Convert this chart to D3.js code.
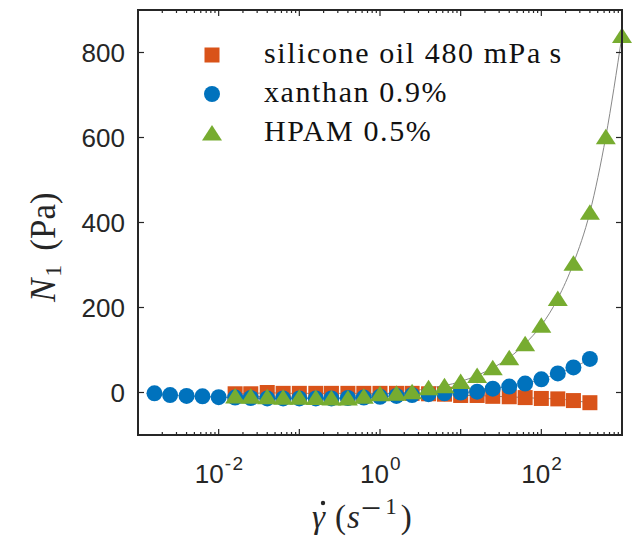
<!DOCTYPE html>
<html>
<head>
<meta charset="utf-8">
<script src="https://cdn.jsdelivr.net/npm/d3@7"></script>
<style>
  body { margin: 0; background: #fff; }
</style>
</head>
<body>
<div id="chart"></div>
<script>
// shear rates (1/s), 5 points per decade
const shearRates = [0.0016, 0.0025, 0.004, 0.0063, 0.01, 0.016, 0.025, 0.04, 0.063, 0.1,
    0.16, 0.25, 0.4, 0.63, 1, 1.6, 2.5, 4, 6.3, 10,
    16, 25, 40, 63, 100, 160, 250, 400, 630, 1000];

// N1 (Pa)
const siliconeN1 = [-3, -3, 0, -2, -2, -2, -2, -2, -2, -2, -2, -2, -3, -4,
    -7, -7, -9, -10, -12, -14, -15, -19, -24];              // 0.016 .. 400
const xanthanN1 = [-2, -6, -8, -9, -11, -12, -13, -14, -14, -14, -14, -14, -13, -12,
    -10, -8, -6, -4, -2, 0, 2, 9, 14, 21, 31, 45, 59, 79];  // 0.0016 .. 400
const hpamN1 = [-8, -9, -10, -11, -11, -12, -13, -13, -9, -3, -2, 2, 11, 16,
    26, 40, 58, 82, 115, 158, 221, 304, 424, 602, 840];     // 0.016 .. 1000

const seriesNames = ["silicone oil 480 mPa\u2009s", "xanthan 0.9%", "HPAM 0.5%"];
const yTicks = [0, 200, 400, 600, 800];
const xLabelTicks = [0.01, 1, 100];

const series = [
    { name: seriesNames[0], shape: "square", color: "#D95319",
      data: siliconeN1.map((v, i) => ({ x: shearRates[i + 5], y: v })) },
    { name: seriesNames[1], shape: "circle", color: "#0072BD",
      data: xanthanN1.map((v, i) => ({ x: shearRates[i], y: v })) },
    { name: seriesNames[2], shape: "triangle", color: "#77AC30",
      data: hpamN1.map((v, i) => ({ x: shearRates[i + 5], y: v })) }
];

const W = 633, H = 540;
const margin = { top: 10, right: 11, bottom: 105, left: 138 };
const width = W - margin.left - margin.right;
const height = H - margin.top - margin.bottom;

const svg = d3.select("#chart").append("svg")
    .attr("width", W).attr("height", H);
const g = svg.append("g")
    .attr("transform", `translate(${margin.left},${margin.top})`);

const x = d3.scaleLog().domain([1e-3, 1e3]).range([0, width]);
const y = d3.scaleLinear().domain([-100, 900]).range([height, 0]);

const axisColor = "#262626";
const sans = "'Liberation Sans', Arial, sans-serif";
const serif = "'Liberation Serif', 'Times New Roman', serif";

// marker drawing
function marker(sel, shape, color) {
    if (shape === "square") {
        sel.append("rect").attr("x", -7.5).attr("y", -7.5)
            .attr("width", 15).attr("height", 15).attr("fill", color);
    } else if (shape === "circle") {
        sel.append("circle").attr("r", 8).attr("fill", color);
    } else {
        sel.append("path").attr("d", "M0,-8L10,7.5L-10,7.5Z").attr("fill", color);
    }
}

// thin grey curves through the points
const line = d3.line()
    .x(d => x(d.x)).y(d => y(d.y))
    .curve(d3.curveMonotoneX);

series.forEach(s => {
    g.append("path").datum(s.data)
        .attr("d", line)
        .attr("fill", "none")
        .attr("stroke", "#888")
        .attr("stroke-width", 1);
});

// markers
series.forEach(s => {
    g.append("g").selectAll("g")
        .data(s.data).enter().append("g")
        .attr("transform", d => `translate(${x(d.x)},${y(d.y)})`)
        .each(function() { marker(d3.select(this), s.shape, s.color); });
});

// ticks (inward, on all four sides)
const majorX = d3.range(-3, 4).map(e => Math.pow(10, e));
const minorX = [];
for (let e = -3; e < 3; e++) for (let k = 2; k <= 9; k++) minorX.push(k * Math.pow(10, e));

const ticks = g.append("g").attr("stroke", axisColor).attr("stroke-width", 1.2);
majorX.forEach(v => {
    ticks.append("line").attr("x1", x(v)).attr("x2", x(v)).attr("y1", height).attr("y2", height - 6);
    ticks.append("line").attr("x1", x(v)).attr("x2", x(v)).attr("y1", 0).attr("y2", 6);
});
minorX.forEach(v => {
    ticks.append("line").attr("x1", x(v)).attr("x2", x(v)).attr("y1", height).attr("y2", height - 3);
    ticks.append("line").attr("x1", x(v)).attr("x2", x(v)).attr("y1", 0).attr("y2", 3);
});
yTicks.forEach(v => {
    ticks.append("line").attr("x1", 0).attr("x2", 6).attr("y1", y(v)).attr("y2", y(v));
    ticks.append("line").attr("x1", width).attr("x2", width - 6).attr("y1", y(v)).attr("y2", y(v));
});

// box
g.append("rect")
    .attr("width", width).attr("height", height)
    .attr("fill", "none").attr("stroke", axisColor).attr("stroke-width", 2);

// y tick labels
g.append("g").selectAll("text")
    .data(yTicks).enter().append("text")
    .attr("x", -13).attr("y", d => y(d))
    .attr("dy", "0.36em")
    .attr("text-anchor", "end")
    .attr("font-family", sans).attr("font-size", 26)
    .attr("fill", axisColor)
    .text(d => d);

// x tick labels 10^n
xLabelTicks.forEach(v => {
    const t = g.append("text")
        .attr("x", x(v) + 1).attr("y", height + 48)
        .attr("text-anchor", "middle")
        .attr("font-family", sans).attr("font-size", 26)
        .attr("fill", axisColor);
    t.append("tspan").text("10");
    t.append("tspan").attr("dx", 1).attr("dy", -13).attr("font-size", 19)
        .attr("letter-spacing", 1.5).text(Math.round(Math.log10(v)));
});

// x axis label: gamma-dot (s^-1)
const xl = svg.append("text")
    .attr("x", 312).attr("y", 528)
    .attr("font-family", serif).attr("font-size", 33)
    .attr("fill", axisColor);
xl.append("tspan").attr("font-style", "italic").text("\u03B3");
xl.append("tspan").attr("dx", 10).text("(");
xl.append("tspan").attr("dx", 1).attr("font-style", "italic").text("s");
xl.append("tspan").attr("dx", 1).attr("dy", -8).attr("font-size", 36).text("\u2212");
xl.append("tspan").attr("dx", 4).attr("dy", -6).attr("font-size", 23).text("1");
xl.append("tspan").attr("dx", 4).attr("dy", 14).text(")");
svg.append("circle").attr("cx", 323).attr("cy", 503).attr("r", 2.2).attr("fill", axisColor);

// y axis label: N_1 (Pa)
const yl = svg.append("text")
    .attr("transform", "translate(55,302) rotate(-90)")
    .attr("font-family", serif).attr("font-size", 35)
    .attr("fill", axisColor);
yl.append("tspan").attr("font-style", "italic").text("N");
yl.append("tspan").attr("dx", 2).attr("dy", 6).attr("font-size", 24).text("1");
yl.append("tspan").attr("dx", 14).attr("dy", -6).text("(Pa)");

// legend
const legend = svg.append("g");
series.forEach((s, i) => {
    const row = legend.append("g").attr("transform", `translate(0,${55 + i * 39})`);
    const m = row.append("g").attr("transform", "translate(212,0)");
    marker(m, s.shape, s.color);
    row.append("text")
        .attr("x", 264).attr("y", 8)
        .attr("font-family", serif).attr("font-size", 30)
        .attr("letter-spacing", 1.6)
        .attr("fill", "#111")
        .text(s.name);
});
</script>
</body>
</html>
